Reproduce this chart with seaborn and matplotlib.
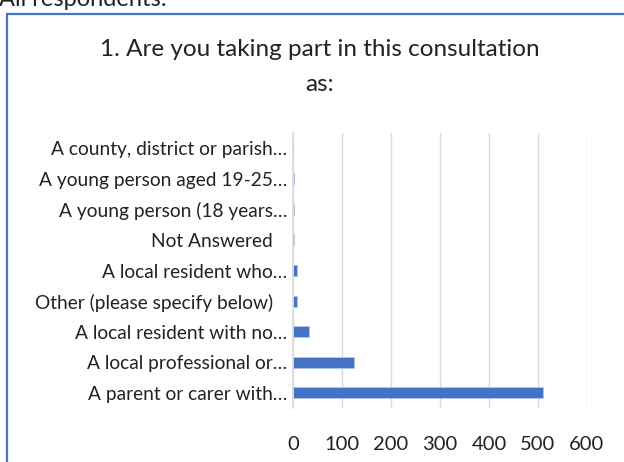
import pandas as pd
import matplotlib
matplotlib.use("Agg")
import matplotlib.pyplot as plt
import seaborn as sns
from matplotlib.patches import Rectangle

# categories listed top to bottom as in the chart
categories = [
    "A county, district or parish\u2026",
    "A young person aged 19-25\u2026",
    "A young person (18 years\u2026",
    "Not Answered   ",
    "A local resident who\u2026",
    "Other (please specify below)   ",
    "A local resident with no\u2026",
    "A local professional or\u2026",
    "A parent or carer with\u2026",
]
responses = [1, 2, 2, 2, 9, 9, 33, 124, 510]
x_ticks = [0, 100, 200, 300, 400, 500, 600]

df = pd.DataFrame({"category": categories, "responses": responses})

sns.set_theme(style="white")
plt.rcParams["font.family"] = ["Lato", "DejaVu Sans"]

fig = plt.figure(figsize=(6.24, 4.62), dpi=100)
ax = fig.add_axes([293 / 624, 1 - 408 / 462, (587 - 293) / 624, (408 - 133) / 462])

sns.barplot(data=df, y="category", x="responses", color="#4472C4",
            width=0.36, orient="h", ax=ax, saturation=1,
            edgecolor="#B4C7E7", linewidth=0.6)

ax.set_xlim(0, 600)
ax.set_xticks(x_ticks)
ax.set_xlabel("")
ax.set_ylabel("")
ax.grid(axis="x", color="#D9D9D9", lw=1)
ax.set_axisbelow(True)
for s in ["top", "right", "bottom"]:
    ax.spines[s].set_visible(False)
ax.spines["left"].set_color("#D9D9D9")
ax.spines["left"].set_linewidth(1.2)
ax.tick_params(axis="y", length=0, pad=4, labelsize=13.8, labelcolor="#222222")
ax.tick_params(axis="x", length=0, pad=20, labelsize=14.5, labelcolor="#222222")

fig.text(320 / 624, 1 - 50 / 462, "1. Are you taking part in this consultation",
         ha="center", va="center", fontsize=17.5, color="#222222")
fig.text(320 / 624, 1 - 85 / 462, "as:", ha="center", va="center",
         fontsize=17.5, color="#222222")

fig.text(-0.002, 1 - 6 / 462, "All respondents:", ha="left", va="baseline",
         fontsize=17, color="#222222")

box = Rectangle((7 / 624, -0.1), 1.2, 1 - 14 / 462 + 0.1, transform=fig.transFigure,
                fill=False, edgecolor="#4472C4", lw=1.6, clip_on=False)
fig.patches.append(box)

fig.savefig("out.png", dpi=100)
